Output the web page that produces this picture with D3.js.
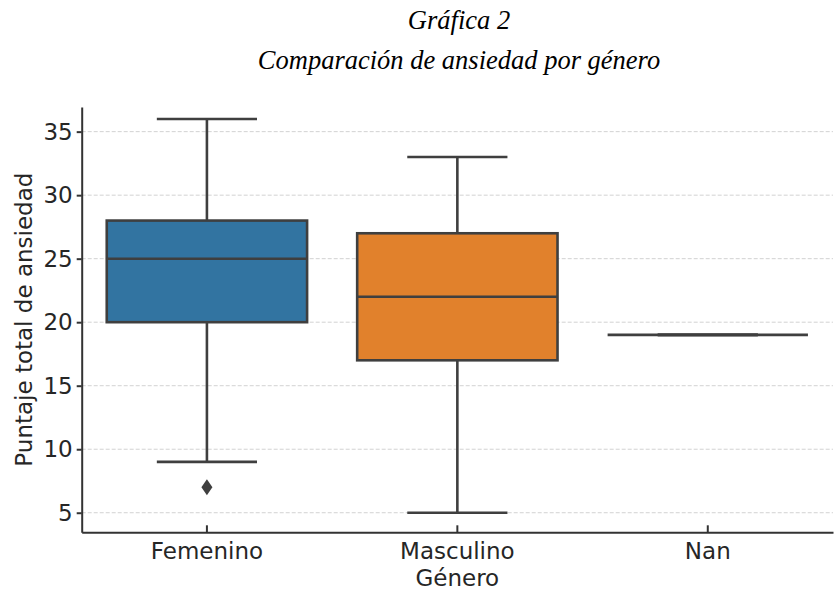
<!DOCTYPE html>
<html>
<head>
<meta charset="utf-8">
<script src="https://cdn.jsdelivr.net/npm/d3@7"></script>
<style>
    body { margin: 0; background: #fff; }
    .title { font-family: "Liberation Serif", "Times New Roman", serif; font-style: italic; font-size: 26.5px; fill: #000; }
    .axis text { font-family: "DejaVu Sans", sans-serif; font-size: 23px; fill: #262626; }
    .axis path, .axis line { stroke: #333; stroke-width: 2; }
    .label { font-family: "DejaVu Sans", sans-serif; font-size: 23px; fill: #262626; }
    .grid line { stroke: #d2d2d2; stroke-width: 1; stroke-dasharray: 4, 2; }
    .box { stroke: #3f3f3f; stroke-width: 2.6; }
</style>
</head>
<body>
<div id="chart"></div>
<script>
const width = 836
const height = 592
const margin = {
    top: 107,
    bottom: 59.7,
    left: 81.7,
    right: 3
}

// datos
const categories = ["Femenino", "Masculino", "Nan"]
const whiskerLow = [9, 5, 19]
const q1 = [20, 17, 19]
const medians = [25, 22, 19]
const q3 = [28, 27, 19]
const whiskerHigh = [36, 33, 19]
const outliers = [[7], [], []]
const yTicks = [5, 10, 15, 20, 25, 30, 35]

const colors = ["#3274a1", "#e1812c", "#3a923a"]
const lineColor = "#3f3f3f"

const data = categories.map((c, i) => ({
    name: c,
    low: whiskerLow[i],
    q1: q1[i],
    median: medians[i],
    q3: q3[i],
    high: whiskerHigh[i],
    outliers: outliers[i],
    color: colors[i]
}))

const svg = d3.select("div#chart").append("svg").attr("width", width).attr("height", height)

const x = d3.scaleBand().domain(categories).range([margin.left, width - margin.right]).padding(0)
const y = d3.scaleLinear().domain([3.46, 36.94]).range([height - margin.bottom, margin.top])

const cx = d => x(d.name) + x.bandwidth() / 2
const boxW = x.bandwidth() * 0.8
const capW = x.bandwidth() * 0.4

// titulo
svg.append("text").attr("class", "title").attr("x", 459).attr("y", 29).attr("text-anchor", "middle").text("Gráfica 2")
svg.append("text").attr("class", "title").attr("x", 459).attr("y", 69).attr("text-anchor", "middle").text("Comparación de ansiedad por género")

// grid
svg.append("g").attr("class", "grid")
    .selectAll("line").data(yTicks).enter().append("line")
    .attr("x1", margin.left).attr("x2", width - margin.right)
    .attr("y1", d => y(d)).attr("y2", d => y(d))

// cajas
const boxes = svg.append("g").selectAll("g").data(data).enter().append("g").attr("class", "box")

boxes.append("line")
    .attr("x1", cx).attr("x2", cx)
    .attr("y1", d => y(d.q3)).attr("y2", d => y(d.high))
boxes.append("line")
    .attr("x1", cx).attr("x2", cx)
    .attr("y1", d => y(d.q1)).attr("y2", d => y(d.low))
boxes.append("line")
    .attr("x1", d => cx(d) - capW / 2).attr("x2", d => cx(d) + capW / 2)
    .attr("y1", d => y(d.high)).attr("y2", d => y(d.high))
boxes.append("line")
    .attr("x1", d => cx(d) - capW / 2).attr("x2", d => cx(d) + capW / 2)
    .attr("y1", d => y(d.low)).attr("y2", d => y(d.low))
boxes.append("rect")
    .attr("x", d => cx(d) - boxW / 2)
    .attr("width", boxW)
    .attr("y", d => y(d.q3))
    .attr("height", d => y(d.q1) - y(d.q3))
    .attr("fill", d => d.color)
boxes.append("line")
    .attr("x1", d => cx(d) - boxW / 2).attr("x2", d => cx(d) + boxW / 2)
    .attr("y1", d => y(d.median)).attr("y2", d => y(d.median))

// outliers (diamante)
const diamond = "M0,-8 L5.5,0 L0,8 L-5.5,0 Z"
boxes.selectAll("path").data(d => d.outliers.map(v => ({ v: v, c: cx(d) }))).enter().append("path")
    .attr("d", diamond)
    .attr("transform", d => `translate(${d.c}, ${y(d.v)})`)
    .attr("fill", lineColor).attr("stroke", "none")

d3.selectAll(".box line, .box rect").attr("stroke", lineColor)

// ejes
const yAxis = d3.axisLeft(y).tickValues(yTicks).tickSize(5).tickSizeOuter(0).tickPadding(4)
svg.append("g").attr("class", "axis").attr("transform", `translate(${margin.left}, 0)`).call(yAxis)

const xAxis = d3.axisBottom(x).tickSize(-7).tickSizeOuter(0).tickPadding(10)
svg.append("g").attr("class", "axis").attr("transform", `translate(0, ${height - margin.bottom})`).call(xAxis)

svg.append("text").attr("class", "label").attr("text-anchor", "middle")
    .attr("x", (margin.left + width - margin.right) / 2).attr("y", 586)
    .text("Género")

svg.append("text").attr("class", "label").attr("text-anchor", "middle")
    .attr("transform", `translate(31.5, ${(margin.top + height - margin.bottom) / 2}) rotate(-90)`)
    .text("Puntaje total de ansiedad")
</script>
</body>
</html>
